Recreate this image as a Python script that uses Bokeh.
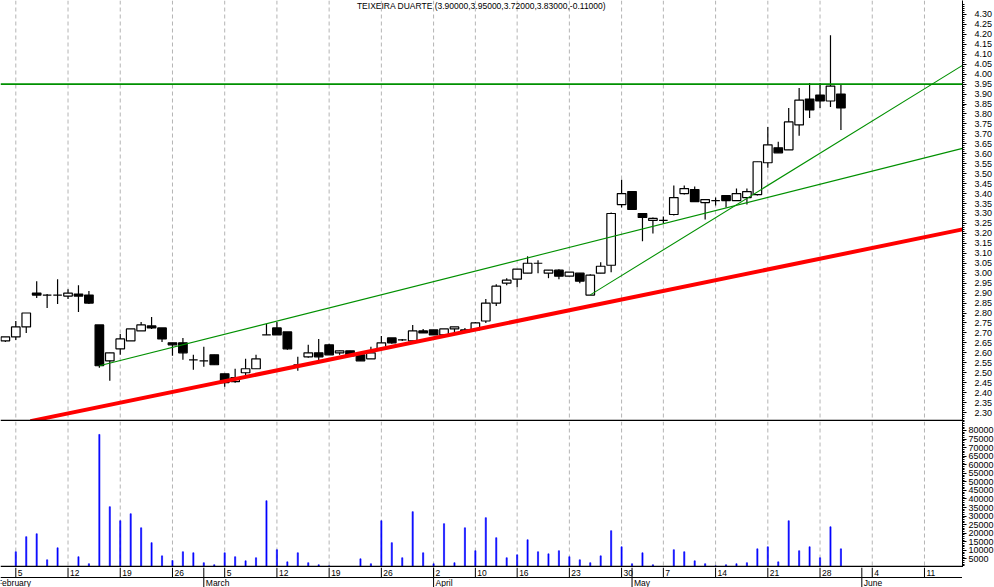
import numpy as np
import pandas as pd
from bokeh.plotting import figure
from bokeh.layouts import column
from bokeh.models import (Range1d, FixedTicker, NumeralTickFormatter, Span, Grid,
                          Label, ColumnDataSource)
from bokeh.core.properties import value
from bokeh.embed import file_html
from bokeh.resources import INLINE

# ---------------- data ----------------
stock_name = "TEIXEIRA DUARTE"
holidays = ["2007-04-06", "2007-04-09", "2007-05-01"]
calendar = [d for d in pd.bdate_range("2007-02-01", "2007-06-15")
            if d.strftime("%Y-%m-%d") not in holidays]
first_candle = 1  # 2007-02-02

opens = [2.66, 2.68, 2.73, 2.90, 2.89, 2.89, 2.885, 2.895, 2.89, 2.74,
         2.56, 2.62, 2.66, 2.71, 2.735, 2.725, 2.65, 2.65, 2.565, 2.56,
         2.59, 2.495, 2.455, 2.50, 2.52, 2.69, 2.725, 2.705, 2.54, 2.58,
         2.60, 2.64, 2.60, 2.61, 2.59, 2.57, 2.62, 2.675, 2.665, 2.66,
         2.71, 2.715, 2.69, 2.72, 2.715, 2.715, 2.76, 2.85, 2.95, 2.97,
         3.00, 3.05, 3.00, 3.015, 2.985, 3.00, 2.89, 3.00, 3.04, 3.345,
         3.41, 3.30, 3.265, 3.265, 3.295, 3.40, 3.42, 3.355, 3.365, 3.39,
         3.365, 3.38, 3.395, 3.555, 3.63, 3.62, 3.745, 3.875, 3.895, 3.865,
         3.90]
highs = [2.68, 2.76, 2.80, 2.96, 2.895, 2.97, 2.92, 2.94, 2.91, 2.74,
         2.60, 2.695, 2.72, 2.755, 2.78, 2.725, 2.65, 2.675, 2.59, 2.63,
         2.59, 2.495, 2.52, 2.57, 2.59, 2.745, 2.755, 2.705, 2.58, 2.64,
         2.67, 2.645, 2.612, 2.61, 2.59, 2.63, 2.685, 2.675, 2.67, 2.74,
         2.72, 2.715, 2.72, 2.73, 2.725, 2.755, 2.87, 2.945, 2.975, 3.02,
         3.085, 3.065, 3.015, 3.02, 3.005, 3.00, 2.995, 3.055, 3.305, 3.47,
         3.41, 3.30, 3.28, 3.285, 3.44, 3.44, 3.435, 3.37, 3.38, 3.39,
         3.425, 3.425, 3.56, 3.735, 3.66, 3.83, 3.93, 3.955, 3.955, 4.195,
         3.95]
lows = [2.655, 2.665, 2.70, 2.875, 2.825, 2.845, 2.87, 2.805, 2.845, 2.525,
        2.46, 2.59, 2.66, 2.71, 2.72, 2.655, 2.585, 2.565, 2.515, 2.53,
        2.54, 2.43, 2.45, 2.485, 2.52, 2.69, 2.69, 2.615, 2.51, 2.575,
        2.56, 2.59, 2.59, 2.585, 2.56, 2.57, 2.62, 2.645, 2.66, 2.66,
        2.70, 2.69, 2.69, 2.695, 2.705, 2.715, 2.75, 2.835, 2.94, 2.93,
        3.00, 3.00, 2.975, 2.97, 2.985, 2.95, 2.89, 3.00, 3.005, 3.33,
        3.32, 3.16, 3.20, 3.25, 3.29, 3.395, 3.36, 3.27, 3.34, 3.33,
        3.365, 3.345, 3.39, 3.53, 3.605, 3.62, 3.69, 3.78, 3.83, 3.835,
        3.72]
closes = [2.68, 2.73, 2.80, 2.89, 2.89, 2.89, 2.90, 2.885, 2.85, 2.535,
          2.60, 2.67, 2.72, 2.74, 2.725, 2.67, 2.64, 2.60, 2.565, 2.56,
          2.54, 2.45, 2.475, 2.52, 2.57, 2.69, 2.69, 2.62, 2.54, 2.60,
          2.58, 2.59, 2.61, 2.585, 2.56, 2.60, 2.65, 2.65, 2.665, 2.71,
          2.70, 2.69, 2.72, 2.73, 2.705, 2.75, 2.85, 2.935, 2.965, 3.02,
          3.05, 3.05, 3.015, 2.985, 3.005, 2.96, 2.99, 3.035, 3.30, 3.40,
          3.32, 3.28, 3.275, 3.265, 3.38, 3.425, 3.36, 3.37, 3.365, 3.365,
          3.40, 3.41, 3.56, 3.645, 3.605, 3.76, 3.87, 3.82, 3.865, 3.94,
          3.83]
volumes = [0, 9200, 18000, 19700, 4500, 11500, 400, 6300, 2200, 77700,
           35500, 27300, 31400, 23200, 14500, 6800, 4100, 9200, 8600, 2800,
           1600, 8600, 6300, 3900, 5700, 39000, 10400, 3300, 8600, 2800,
           1600, 1000, 0, 0, 5100, 2200, 27300, 14500, 5700, 32600,
           8600, 2200, 25600, 2800, 23200, 9800, 29100, 17400, 5700, 7400,
           16200, 9200, 8000, 9800, 6300, 4500, 2800, 6800, 21500, 12100,
           2200, 8600, 1600, 400, 10400, 9200, 3900, 2200, 1000, 1600,
           2200, 2800, 10900, 12100, 3300, 27300, 9800, 12100, 5700, 23800,
           10900]

resistance_level = 3.95
# trend lines: (trading-day position, price) end points
red_trend_x = [3.4, 92.64]
red_trend_y = [2.257, 3.22]
green_trend1_x = [10.0, 92.64]
green_trend1_y = [2.535, 3.627]
green_trend2_x = [57.0, 92.64]
green_trend2_y = [2.891, 4.044]

price_ticks = [round(2.30 + 0.05 * k, 2) for k in range(41)]
price_minor = [round(2.26 + 0.01 * k, 2) for k in range(210)]
volume_ticks = list(range(5000, 80001, 5000))
volume_minor = list(range(1000, 85001, 1000))

# ---------------- derived positions ----------------
pos_all = np.arange(len(calendar))
pos = pos_all[first_candle:first_candle + len(opens)]
o = np.array(opens); c = np.array(closes)
up = c >= o
src = ColumnDataSource(dict(
    x=pos, top=np.maximum(o, c), bottom=np.minimum(o, c),
    high=highs, low=lows,
    fill=["white" if u else "black" for u in up]))

week_pos, week_lbl = [], []
for i in range(1, len(calendar)):
    if calendar[i].isocalendar()[1] != calendar[i - 1].isocalendar()[1]:
        week_pos.append(int(pos_all[i])); week_lbl.append(str(calendar[i].day))
month_pos, month_lbl = [0], [calendar[0].strftime("%B")]
for i in range(1, len(calendar)):
    if calendar[i].month != calendar[i - 1].month:
        month_pos.append(int(pos_all[i])); month_lbl.append(calendar[i].strftime("%B"))

FONT = "Liberation Sans"
FW = 962
xr = Range1d(0.535, 92.64)
PRICE_H, VOL_H, DATE_H = 421, 146, 20
price_range = Range1d(2.255, 4.37)
vol_range = Range1d(0, 85250)

def base_fig(h, yr, yloc):
    f = figure(frame_width=FW, frame_height=h, x_range=xr, y_range=yr,
               output_backend="svg", toolbar_location=None,
               x_axis_location=None, y_axis_location=yloc,
               min_border_left=0, min_border_top=0, min_border_bottom=0,
               min_border_right=0, outline_line_color=None,
               background_fill_color="white", border_fill_color="white")
    f.center = [r for r in f.center if not isinstance(r, Grid)]
    return f

def add_week_grid(f):
    for wp in week_pos:
        f.add_layout(Span(location=wp, dimension="height", line_color="#b4b4b4",
                          line_dash="4 3", line_width=1, level="underlay"))

def style_axis(ax, standoff):
    ax.axis_line_color = "black"
    ax.major_tick_line_color = "black"
    ax.minor_tick_line_color = "black"
    ax.major_tick_in = 0
    ax.major_tick_out = 4
    ax.minor_tick_in = 0
    ax.minor_tick_out = 2
    ax.major_label_standoff = standoff
    ax.major_label_text_font = FONT
    ax.major_label_text_font_size = "9px"
    ax.major_label_text_color = "black"

def bottom_edge(rng, h):
    # location one pixel above the frame bottom so the rule is fully visible
    return rng.start + (rng.end - rng.start) / h

# ---------------- price panel ----------------
p1 = base_fig(PRICE_H, price_range, "right")
add_week_grid(p1)
ax1 = p1.yaxis[0]
ax1.ticker = FixedTicker(ticks=price_ticks, minor_ticks=price_minor)
ax1.formatter = NumeralTickFormatter(format="0.00")
style_axis(ax1, 8)

p1.segment(x0="x", x1="x", y0="low", y1="high", source=src,
           line_color="black", line_width=1.2)
p1.vbar(x="x", top="top", bottom="bottom", width=0.82, source=src,
        fill_color="fill", line_color="black", line_width=1.2)

p1.add_layout(Span(location=resistance_level, dimension="width",
                   line_color="#009000", line_width=1.6))
p1.line(green_trend1_x, green_trend1_y, line_color="#009000", line_width=1.1)
p1.line(green_trend2_x, green_trend2_y, line_color="#009000", line_width=1.1)
p1.line(red_trend_x, red_trend_y, line_color="#ff0000", line_width=4)
p1.add_layout(Span(location=bottom_edge(price_range, PRICE_H), dimension="width",
                   line_color="black", line_width=1.6))

title_txt = "%s (%.5f,%.5f,%.5f,%.5f,%.5f)" % (
    stock_name, opens[-1], highs[-1], lows[-1], closes[-1], closes[-1] - closes[-2])
p1.add_layout(Label(x=(xr.start + xr.end) / 2, y=4.368, text=title_txt,
                    text_align="center", text_baseline="top",
                    text_font=FONT, text_font_size="8.5px", text_color="black"))

# ---------------- volume panel ----------------
p2 = base_fig(VOL_H, vol_range, "right")
add_week_grid(p2)
ax2 = p2.yaxis[0]
ax2.ticker = FixedTicker(ticks=volume_ticks, minor_ticks=volume_minor)
ax2.formatter = NumeralTickFormatter(format="0")
style_axis(ax2, 2)
p2.vbar(x=pos, top=volumes, bottom=0, width=0.11,
        fill_color="#0000ff", line_color="#0000ff", line_width=0.6)
p2.add_layout(Span(location=bottom_edge(vol_range, VOL_H), dimension="width",
                   line_color="black", line_width=1.6))

# ---------------- date strip ----------------
p3 = base_fig(DATE_H, Range1d(0, 2), None)
p3.add_layout(Span(location=1, dimension="width", line_color="black", line_width=1))
p3.segment(x0=week_pos, x1=week_pos, y0=[1] * len(week_pos), y1=[2] * len(week_pos),
           line_color="black", line_width=1)
p3.segment(x0=month_pos, x1=month_pos, y0=[0] * len(month_pos), y1=[2] * len(month_pos),
           line_color="black", line_width=1)
p3.text(x=week_pos, y=[1.5] * len(week_pos), text=week_lbl, x_offset=2,
        text_align="left", text_baseline="middle",
        text_font=value(FONT), text_font_size="8.5px", text_color="black")
p3.text(x=month_pos, y=[0.45] * len(month_pos), text=month_lbl, x_offset=2,
        text_align="left", text_baseline="middle",
        text_font=value(FONT), text_font_size="8.5px", text_color="black")

layout = column(p1, p2, p3, spacing=0)
open("out.html", "w").write(file_html(layout, INLINE))
